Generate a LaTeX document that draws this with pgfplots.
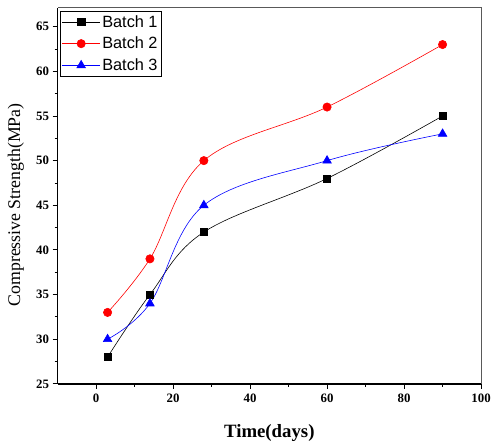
\documentclass[border=0pt]{standalone}
\usepackage{fontspec}
\setmainfont{Liberation Serif}
\newfontfamily\arial{Liberation Sans}
\usepackage{pgfplots}
\pgfplotsset{compat=1.18}
\begin{document}
\begin{tikzpicture}
\begin{axis}[
  name=ax,
  scale only axis,
  width=427bp, height=379bp,
  xmin=-10, xmax=100, ymin=25, ymax=67.1,
  xtick={0,20,...,100}, ytick={25,30,...,65},
  minor x tick num=1, minor y tick num=1,
  axis x line*=bottom, axis y line*=left,
  tick align=outside,
  major tick length=5bp, minor tick length=3bp,
  every tick/.style={black, line width=0.9pt},
  axis line style={black, line width=1.3pt, -},
  ticklabel style={font=\fontsize{13}{14}\selectfont\bfseries},
  xticklabel style={yshift=-2bp},
  /pgf/number format/assume math mode=true,
  xlabel={\fontsize{19}{20}\selectfont\bfseries Time(days)},
  ylabel={\fontsize{18}{19}\selectfont Compressive Strength(MPa)},
  xlabel style={at={(axis description cs:0.5,0)}, anchor=center, yshift=-50bp},
  ylabel style={at={(axis description cs:0,0.5)}, anchor=center, yshift=42bp, xshift=-9bp},
  legend style={at={(axis description cs:0.005,0.992)}, anchor=north west, draw=black, line width=0.8pt,
     font=\arial\fontsize{16.5}{19}\selectfont, inner sep=2bp, row sep=4.5bp},
  legend cell align=left,
  legend image code/.code={\draw[mark repeat=2,mark phase=2] plot coordinates {(0bp,0bp) (19bp,0bp) (38bp,0bp)};},
]
\addplot[black, line width=0.6pt, smooth, tension=0.6, mark=square*, mark size=3.7bp, mark options={solid}] coordinates {
 (3,28) (14,35) (28,42) (60,48) (90,55)};
\addlegendentry{Batch 1}
\addplot[red, line width=0.6pt, smooth, tension=0.6, mark=*, mark size=4.2bp, mark options={solid}] coordinates {
 (3,33) (14,39) (28,50) (60,56) (90,63)};
\addlegendentry{Batch 2}
\addplot[blue, line width=0.6pt, smooth, tension=0.6, mark=triangle*, mark size=5bp, mark options={solid}] coordinates {
 (3,30) (14,34) (28,45) (60,50) (90,53)};
\addlegendentry{Batch 3}
\end{axis}
\draw[gray!70!black, line width=0.9pt] (ax.north west) -- (ax.north east) -- (ax.south east);
\path ([xshift=-58bp,yshift=-63bp]ax.south west) ([xshift=9bp,yshift=8bp]ax.north east);
\end{tikzpicture}
\end{document}
